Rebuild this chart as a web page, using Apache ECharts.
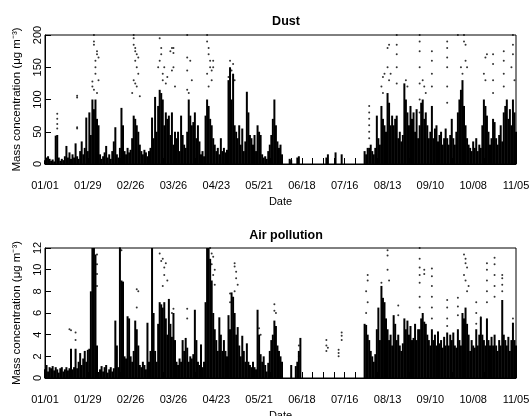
<!DOCTYPE html>
<html>
<head>
<meta charset="utf-8">
<script src="https://cdn.jsdelivr.net/npm/echarts@6/dist/echarts.min.js"></script>
<style>
  html, body { margin: 0; padding: 0; background: #ffffff; }
  #main { width: 530px; height: 416px; }
</style>
</head>
<body>
<div id="main"></div>
<script>
// day 0 = 01/01, one value per day (daily peak of the dense hourly mass)
var dustPeak = [
  6, 10, 12, 8, 5, 7, 4,
  44, 45, 10, 5, 8, 6, 12,
  28, 10, 18, 8, 15, 10, 32,
  12, 8, 20, 35, 15, 25, 72,
  20, 80, 45, 100, 85, 100, 70,
  60, 15, 8, 12, 18, 28, 10,
  15, 8, 20, 35, 57, 15, 10,
  25, 87, 60, 20, 15, 25, 18,
  22, 40, 75, 70, 60, 50, 30,
  20, 15, 22, 18, 12, 20, 25,
  72, 40, 104, 50, 90, 115, 110,
  100, 60, 80, 70, 75, 45, 80,
  30, 50, 40, 50, 20, 75, 45,
  30, 25, 50, 100, 75, 60, 65,
  80, 40, 60, 35, 15, 20, 12,
  75, 100, 90, 70, 60, 40, 30,
  20, 25, 15, 40, 20, 25, 18,
  22, 130, 150, 100, 140, 60, 50,
  40, 60, 30, 55, 20, 35, 112,
  80, 45, 40, 30, 45, 20, 60,
  50, 45, 15, 10, 12, 8, 20,
  30, 45, 70, 100, 60, 35, 25,
  30, 15, null, null, null, null, 8,
  6, null, null, null, 10, 12, null,
  null, null, null, null, null, null, null,
  null, null, null, null, null, null, null,
  null, null, 10, 15, null, null, null,
  null, 18, null, null, null, 15, null,
  null, null, null, null, null, null, null,
  null, null, null, null, null, null, 20,
  15, 25, 25, 30, 20, 15, 25,
  75, 40, 30, 90, 70, 60, 50,
  110, 95, 60, 75, 60, 70, 75,
  40, 50, 35, 45, 125, 100, 80,
  60, 90, 70, 80, 50, 85, 40,
  60, 95, 100, 70, 80, 60, 40,
  50, 90, 40, 55, 60, 35, 45,
  50, 30, 40, 55, 40, 30, 45,
  70, 40, 30, 50, 80, 100, 115,
  130, 90, 60, 40, 30, 25, 20,
  35, 25, 40, 20, 30, 25, 60,
  100, 90, 75, 50, 30, 40, 70,
  65, 40, 30, 45, 60, 35, 80,
  90, 100, 70, 85, 60, 100, 80,
  50
];

// isolated points above the dense mass: [day, value]
var dustHigh = [
  [8, 55], [8, 62], [8, 70], [8, 78], [21, 55], [21, 57], [21, 103], [21, 106],
  [31, 120], [31, 128], [32, 200], [32, 190], [32, 185], [33, 160], [33, 150], [34, 175],
  [34, 170], [35, 165], [33, 140], [32, 115], [34, 110], [35, 130],
  [57, 110], [58, 200], [58, 195], [58, 185], [59, 180], [59, 175], [59, 160], [60, 170],
  [60, 150], [61, 165], [61, 140], [58, 130], [59, 125], [60, 120], [62, 105],
  [74, 150], [75, 160], [75, 195], [76, 180], [76, 170], [77, 140], [77, 130], [78, 150],
  [79, 125], [80, 135], [82, 175], [83, 180], [83, 145], [84, 180], [84, 172], [84, 150], [85, 120],
  [93, 200], [93, 165], [93, 145], [93, 115], [94, 110], [95, 160], [96, 130],
  [106, 200], [106, 190], [107, 180], [107, 170], [108, 160], [108, 150], [106, 140], [109, 130],
  [107, 120], [110, 160], [110, 150], [109, 145],
  [121, 160], [122, 145], [123, 155], [124, 130], [120, 135],
  [212, 40], [212, 50], [212, 60], [212, 70], [212, 80], [212, 90],
  [220, 120], [221, 135], [222, 140], [221, 110], [224, 180], [224, 150], [225, 185], [225, 130],
  [226, 140], [230, 200], [230, 185], [230, 170], [230, 150], [230, 125], [236, 130], [237, 120],
  [245, 200], [245, 190], [245, 175], [245, 150], [245, 125], [245, 100], [245, 80],
  [247, 130], [248, 120], [249, 110], [253, 175], [253, 160], [253, 140], [253, 120],
  [263, 190], [263, 180], [263, 165], [263, 150], [263, 120], [263, 95],
  [270, 200], [272, 150], [274, 200], [274, 190], [275, 185], [275, 160], [276, 150], [273, 140],
  [287, 140], [288, 165], [289, 170], [288, 130], [293, 170], [293, 155], [293, 130], [293, 110],
  [300, 175], [300, 160], [300, 140], [300, 120], [306, 200], [306, 185], [306, 170], [305, 150], [307, 130]
];

var airPeak = [
  0.8, 1.2, 0.6, 1.0, 0.9, 1.1, 0.7,
  1.0, 0.8, 0.5, 0.9, 1.0, 0.6, 0.8,
  1.0, 0.7, 0.9, 2.7, 0.8, 1.0, 2.7,
  0.9, 1.5, 2.3, 1.2, 1.8, 2.5, 1.5,
  2.6, 2.7, 8.0, 12, 12, 11.4, 3.0,
  0.5, 0.8, 1.1, 0.6, 1.0, 1.2, 0.5,
  0.8, 1.0, 0.6, 0.9, 5.3, 3.0, 1.0,
  12, 9.0, 8.9, 2.0, 1.8, 5.7, 5.5,
  2.0, 1.5, 2.5, 5.3, 4.5, 3.0, 1.2,
  1.0, 1.5, 1.2, 0.8, 5.1, 1.5, 2.5,
  12, 6.0, 2.5, 1.5, 5.0, 7.0, 6.8,
  6.5, 7.0, 5.5, 4.0, 7.3, 5.0, 3.8,
  6.0, 3.5, 1.5, 1.2, 1.8, 1.5, 3.5,
  2.5, 3.7, 2.8, 1.5, 2.0, 1.8, 2.2,
  6.3, 3.5, 1.5, 1.2, 3.1, 1.0, 1.5,
  7.0, 12, 12, 11, 9.0, 6.0, 4.5,
  3.5, 2.5, 5.6, 4.0, 2.5, 3.5, 2.5,
  2.0, 5.8, 4.5, 7.9, 7.5, 6.0, 4.0,
  4.7, 3.0, 2.0, 3.9, 2.5, 1.5, 3.2,
  1.5, 1.2, 1.0, 1.5, 1.0, 0.8, 6.3,
  4.0, 2.2, 1.5, 2.0, 1.2, 0.6, 1.4,
  2.5, 3.5, 4.0, 5.3, 4.8, 3.0, 2.5,
  2.0, 1.5, null, null, null, null, null,
  1.2, null, null, 1.1, 1.5, 2.5, 3.7,
  null, null, null, null, null, null, null,
  null, null, null, null, null, null, null,
  null, null, null, null, null, null, null,
  null, null, null, null, null, null, null,
  null, null, null, null, null, null, null,
  null, null, null, null, null, null, 5.0,
  4.9, 4.0, 3.5, 2.5, 2.0, 1.5, 2.2,
  4.5, 6.5, 3.5, 8.5, 7.4, 7.0, 5.5,
  4.5, 3.5, 4.0, 3.0, 5.8, 5.0, 3.5,
  4.0, 3.0, 2.5, 3.2, 5.5, 4.5, 5.3,
  4.0, 4.8, 3.5, 3.7, 5.0, 3.5, 4.5,
  4.5, 5.5, 6.0, 5.2, 5.0, 4.0, 3.5,
  3.0, 4.5, 3.5, 4.0, 3.0, 4.3, 3.2,
  3.5, 2.8, 3.8, 3.0, 4.2, 3.0, 4.0,
  3.5, 4.2, 3.0, 2.8, 4.5, 3.5, 3.0,
  6.0, 5.5, 6.5, 5.0, 4.0, 2.5, 3.5,
  3.0, 2.8, 4.5, 3.0, 4.0, 5.6, 4.0,
  3.5, 3.0, 5.5, 3.5, 3.0, 3.8, 3.0,
  4.0, 3.0, 2.5, 3.5, 3.0, 7.2, 4.0,
  3.5, 3.0, 3.8, 2.5, 3.5, 5.1, 3.5,
  3.0
];

var airHigh = [
  [16, 4.5], [17, 4.4], [20, 4.2], [20, 3.5], [34, 11.4], [34, 10.5], [34, 9.6], [34, 8.5],
  [49, 12], [50, 11.8], [60, 8.2], [61, 8.0], [60, 6.5],
  [75, 11.5], [76, 10.8], [77, 11.0], [78, 10.2], [78, 9.5], [79, 10.6], [80, 9.0], [77, 8.5],
  [83, 6.0], [84, 6.4], [93, 6.4], [93, 5.5],
  [108, 12], [109, 11.5], [110, 11.2], [109, 10.5], [111, 10.0], [110, 9.5], [111, 8.6],
  [121, 7.8], [121, 7.0], [124, 10.6], [124, 10.3], [125, 9.8], [125, 9.2], [126, 8.6], [124, 8.0],
  [140, 4.6], [141, 4.0], [150, 6.8], [150, 6.2], [151, 6.0], [166, 2.0], [166, 3.0],
  [184, 2.5], [184, 3.0], [184, 3.5], [185, 2.8], [192, 2.0], [192, 2.3], [192, 2.6],
  [194, 3.5], [194, 3.9], [194, 4.2],
  [211, 9.5], [211, 9.0], [210, 8.0], [211, 7.0], [210, 6.0], [220, 8.8],
  [224, 11.8], [224, 11.3], [224, 10.0], [225, 9.0], [231, 6.7], [231, 5.8],
  [245, 12], [245, 11], [245, 10.2], [245, 9.5], [245, 8.8], [245, 7.5], [245, 6.5],
  [248, 10.0], [248, 9.6], [253, 10.1], [253, 9.4], [253, 8.5], [253, 7.5], [253, 6.5], [253, 5.5],
  [263, 7.2], [263, 6.5], [263, 5.5], [263, 4.8], [270, 7.4], [270, 6.6], [270, 5.8],
  [274, 11.4], [275, 11.0], [275, 10.6], [276, 10.2], [274, 9.5], [275, 9.0], [276, 8.0], [277, 8.5],
  [282, 7.0], [282, 6.0], [282, 5.0], [285, 5.6],
  [289, 10.6], [289, 10.0], [289, 9.0], [289, 8.0], [289, 7.0],
  [294, 11.1], [294, 10.5], [294, 9.5], [294, 8.5], [294, 7.5],
  [299, 9.5], [299, 9.2], [299, 8.6], [299, 8.0], [306, 5.5], [306, 5.0]
];

var dayTicks = 28;   // label every 4 weeks
var lastDay = 308;   // 11/05

function toPairs(arr) {
  var out = [];
  for (var i = 0; i < arr.length; i++) {
    if (arr[i] != null) out.push([i, arr[i]]);
  }
  return out;
}

function dayLabel(d) {
  var dt = new Date(Date.UTC(2009, 0, 1) + d * 86400000);
  var m = dt.getUTCMonth() + 1, dd = dt.getUTCDate();
  return (m < 10 ? '0' : '') + m + '/' + (dd < 10 ? '0' : '') + dd;
}

var chart = echarts.init(document.getElementById('main'));
var font = 'Liberation Sans, Arial, Helvetica, sans-serif';

function xAxisFor(idx) {
  return {
    type: 'value',
    gridIndex: idx,
    min: 0,
    max: lastDay,
    interval: dayTicks,
    name: 'Date',
    nameLocation: 'middle',
    nameGap: 32,
    nameTextStyle: { color: '#000', fontSize: 11, fontFamily: font },
    axisLine: { show: true, lineStyle: { color: '#000', width: 1 } },
    axisTick: { show: true, inside: true, length: 6, lineStyle: { color: '#000' } },
    minorTick: { show: true, splitNumber: 4, length: 6, lineStyle: { color: '#000' } },
    axisLabel: { color: '#000', fontSize: 11, fontFamily: font, margin: 16, formatter: dayLabel },
    splitLine: { show: false }
  };
}

function yAxisFor(idx, max, step) {
  return {
    type: 'value',
    gridIndex: idx,
    min: 0,
    max: max,
    interval: step,
    name: 'Mass concentration (\u03bcg m\u207b\u00b3)',
    nameLocation: 'middle',
    nameGap: 22,
    nameRotate: 90,
    nameTextStyle: { color: '#000', fontSize: 11.5, fontFamily: font },
    axisLine: { show: true, lineStyle: { color: '#000', width: 1 } },
    axisTick: { show: true, inside: true, length: 6, lineStyle: { color: '#000' } },
    axisLabel: { color: '#000', fontSize: 11, fontFamily: font, rotate: 90, margin: 2 },
    splitLine: { show: false }
  };
}

var option = {
  animation: false,
  backgroundColor: '#ffffff',
  textStyle: { fontFamily: font },
  title: [
    { text: 'Dust', left: 281, top: 10, textAlign: 'center',
      textStyle: { fontSize: 12.5, fontWeight: 'bold', color: '#000', fontFamily: font } },
    { text: 'Air pollution', left: 281, top: 224, textAlign: 'center',
      textStyle: { fontSize: 12.5, fontWeight: 'bold', color: '#000', fontFamily: font } }
  ],
  grid: [
    { left: 45, right: 14, top: 35, height: 129, show: true, borderColor: '#000', borderWidth: 1,
      containLabel: false, outerBoundsMode: 'none' },
    { left: 45, right: 14, top: 248, height: 130, show: true, borderColor: '#000', borderWidth: 1,
      containLabel: false, outerBoundsMode: 'none' }
  ],
  xAxis: [xAxisFor(0), xAxisFor(1)],
  yAxis: [yAxisFor(0, 200, 50), yAxisFor(1, 12, 2)],
  series: [
    { name: 'Dust', type: 'bar', xAxisIndex: 0, yAxisIndex: 0, barWidth: 2,
      itemStyle: { color: '#000' }, data: toPairs(dustPeak) },
    { name: 'Dust points', type: 'scatter', xAxisIndex: 0, yAxisIndex: 0, symbolSize: 2,
      itemStyle: { color: '#000' }, data: dustHigh },
    { name: 'Air pollution', type: 'bar', xAxisIndex: 1, yAxisIndex: 1, barWidth: 2,
      itemStyle: { color: '#000' }, data: toPairs(airPeak) },
    { name: 'Air points', type: 'scatter', xAxisIndex: 1, yAxisIndex: 1, symbolSize: 2,
      itemStyle: { color: '#000' }, data: airHigh }
  ]
};

chart.setOption(option);
window.addEventListener('resize', function () {
  chart.resize();
});
</script>
</body>
</html>
